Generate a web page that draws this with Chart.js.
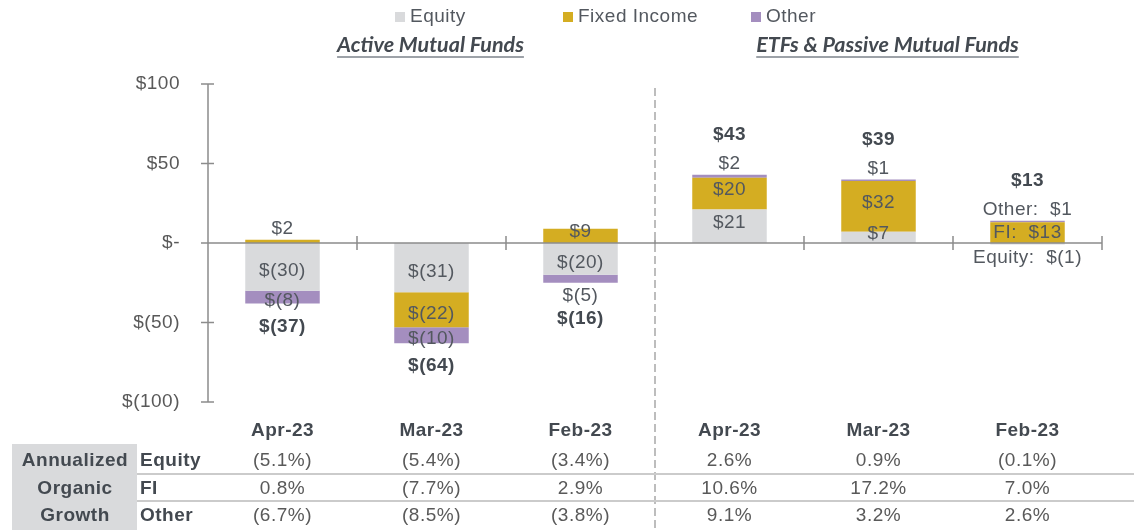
<!DOCTYPE html>
<html>
<head>
<meta charset="utf-8">
<script src="https://cdn.jsdelivr.net/npm/chart.js@4"></script>
<style>
  html, body { margin: 0; padding: 0; background: #fff; }
  #wrap { position: relative; width: 1134px; height: 530px; }
</style>
</head>
<body>
<div id="wrap"><canvas id="flows"></canvas></div>
<script>
// ─── Data ─────────────────────────────────────────────────────────────────────

const categories = ["Apr-23", "Mar-23", "Feb-23", "Apr-23", "Mar-23", "Feb-23"];
const seriesNames = ["Equity", "Fixed Income", "Other"];
const rowNames = ["Equity", "FI", "Other"];
const sectionTitles = ["Active Mutual Funds", "ETFs & Passive Mutual Funds"];
const blockTitle = ["Annualized", "Organic", "Growth"];

const equityFlows = [-30, -31, -20, 21, 7, -1];
const fixedIncomeFlows = [2, -22, 9, 20, 32, 13];
const otherFlows = [-8, -10, -5, 2, 1, 1];
const totalFlows = [-37, -64, -16, 43, 39, 13];

const yTicks = [-100, -50, 0, 50, 100];

const growthEquity = [-5.1, -5.4, -3.4, 2.6, 0.9, -0.1];
const growthFI = [0.8, -7.7, 2.9, 10.6, 17.2, 7.0];
const growthOther = [-6.7, -8.5, -3.8, 9.1, 3.2, 2.6];

// ─── Styles ───────────────────────────────────────────────────────────────────

const COLORS = {
  equity: "#d9dadc",
  fi: "#d4ad22",
  other: "#a48ebf",
  axis: "#8c8c8c",
  tick: "#595959",
  label: "#53585f",
  dark: "#434950",
  dash: "#bdbdbd",
  rule: "#cbcbcb",
  block: "#d9dadc",
};
const FONT = "'Liberation Sans', Arial, sans-serif";
const SIZE = 19;
const SPACING = "0.5px";

const money = (v) => (v === 0 ? "$-" : v < 0 ? "$(" + -v + ")" : "$" + v);
const pct = (v) => (v < 0 ? "(" + (-v).toFixed(1) + "%)" : v.toFixed(1) + "%");

// ─── Plugins ──────────────────────────────────────────────────────────────────

// slightly wider tracking, as in the source slide
const trackingPlugin = {
  id: "tracking",
  beforeDraw(chart) {
    chart.ctx.letterSpacing = SPACING;
  },
};

const axesPlugin = {
  id: "axes",
  afterDatasetsDraw(chart) {
    const { ctx, chartArea, scales: { x, y } } = chart;
    const half = (x.getPixelForValue(1) - x.getPixelForValue(0)) / 2;
    const y0 = y.getPixelForValue(0);
    ctx.save();
    ctx.strokeStyle = COLORS.axis;
    ctx.lineWidth = 1.5;
    ctx.beginPath();
    ctx.moveTo(chartArea.left, y.getPixelForValue(yTicks[yTicks.length - 1]));
    ctx.lineTo(chartArea.left, y.getPixelForValue(yTicks[0]));
    yTicks.forEach((t) => {
      const py = y.getPixelForValue(t);
      ctx.moveTo(chartArea.left - 7, py);
      ctx.lineTo(chartArea.left + 6, py);
    });
    ctx.moveTo(chartArea.left, y0);
    ctx.lineTo(chartArea.right, y0);
    for (let i = 0; i <= categories.length; i++) {
      const px = x.getPixelForValue(0) - half + i * half * 2;
      ctx.moveTo(px, y0 - 7);
      ctx.lineTo(px, y0 + 7);
    }
    ctx.stroke();

    // dashed separator between the two fund groups
    const sep = (x.getPixelForValue(2) + x.getPixelForValue(3)) / 2;
    ctx.strokeStyle = COLORS.dash;
    ctx.lineWidth = 2;
    ctx.setLineDash([8, 4]);
    ctx.beginPath();
    ctx.moveTo(sep, 88);
    ctx.lineTo(sep, chart.height);
    ctx.stroke();
    ctx.restore();
  },
};

const labelPlugin = {
  id: "segmentLabels",
  afterDatasetsDraw(chart) {
    const { ctx } = chart;
    ctx.save();
    ctx.textAlign = "center";
    ctx.textBaseline = "middle";
    categories.forEach((cat, i) => {
      const segs = chart.data.datasets.map((ds, s) => {
        const bar = chart.getDatasetMeta(s).data[i];
        return { v: ds.data[i], s, x: bar.x, top: Math.min(bar.y, bar.base), bot: Math.max(bar.y, bar.base) };
      });
      const cx = segs[0].x;
      const topPx = Math.min(...segs.map((g) => g.top));
      const botPx = Math.max(...segs.map((g) => g.bot));
      const tiny = segs.filter((g) => g.bot - g.top < 10);
      const named = tiny.length > 1;
      let minY = topPx, maxY = botPx;
      ctx.font = SIZE + "px " + FONT;
      ctx.fillStyle = COLORS.label;
      segs.forEach((g) => {
        // labels sit a little away from the zero line inside their segment
        let ly = (g.top + g.bot) / 2 + (named ? 0 : g.v < 0 ? 4 : -4);
        if (g.bot - g.top < 10) ly = g.v >= 0 ? topPx - 11 : botPx + 13;
        minY = Math.min(minY, ly);
        maxY = Math.max(maxY, ly);
        const text = (named ? rowNames[g.s] + ":  " : "") + money(g.v);
        ctx.fillText(text, cx, ly);
      });
      ctx.font = "bold " + SIZE + "px " + FONT;
      ctx.fillStyle = COLORS.dark;
      const t = totalFlows[i];
      const ty = t < 0 ? Math.max(botPx, maxY) + 23 : Math.min(topPx, minY) - 29;
      ctx.fillText(money(t), cx, ty);
    });
    ctx.restore();
  },
};

const framePlugin = {
  id: "frame",
  afterDraw(chart) {
    const { ctx, scales: { x } } = chart;
    ctx.save();
    ctx.textBaseline = "middle";

    // legend
    const legendX = [395, 563, 751];
    const swatches = [COLORS.equity, COLORS.fi, COLORS.other];
    ctx.font = SIZE + "px " + FONT;
    seriesNames.forEach((name, s) => {
      ctx.fillStyle = swatches[s];
      ctx.fillRect(legendX[s], 12, 10, 10);
      ctx.fillStyle = COLORS.label;
      ctx.textAlign = "left";
      ctx.fillText(name, legendX[s] + 15, 17);
    });

    // section titles
    ctx.letterSpacing = "0px";
    ctx.font = "italic bold 21.5px Lato, sans-serif";
    ctx.textAlign = "center";
    const groups = [[0, 1, 2], [3, 4, 5]];
    groups.forEach((g, k) => {
      const cx = g.reduce((a, i) => a + x.getPixelForValue(i), 0) / g.length + (k ? 9 : -1);
      ctx.fillStyle = COLORS.dark;
      ctx.fillText(sectionTitles[k], cx, 45);
      const w = ctx.measureText(sectionTitles[k]).width;
      ctx.strokeStyle = "#7d838b";
      ctx.lineWidth = 1.5;
      ctx.beginPath();
      ctx.moveTo(cx - w / 2, 57);
      ctx.lineTo(cx + w / 2, 57);
      ctx.stroke();
    });
    ctx.letterSpacing = SPACING;

    // growth table
    const rowY = [461, 489, 516];
    ctx.fillStyle = COLORS.block;
    ctx.fillRect(12, 444, 125, chart.height - 444);
    ctx.strokeStyle = COLORS.rule;
    ctx.lineWidth = 2;
    ctx.beginPath();
    [474, 501].forEach((ly) => {
      ctx.moveTo(137, ly);
      ctx.lineTo(chart.width, ly);
    });
    ctx.stroke();

    ctx.font = "bold " + SIZE + "px " + FONT;
    ctx.fillStyle = COLORS.dark;
    blockTitle.forEach((t, r) => {
      ctx.textAlign = "center";
      ctx.fillText(t, 75, rowY[r]);
      ctx.textAlign = "left";
      ctx.fillText(rowNames[r], 140, rowY[r]);
    });

    ctx.font = SIZE + "px " + FONT;
    ctx.fillStyle = COLORS.tick;
    ctx.textAlign = "center";
    [growthEquity, growthFI, growthOther].forEach((row, r) => {
      row.forEach((v, i) => ctx.fillText(pct(v), x.getPixelForValue(i), rowY[r]));
    });
    ctx.restore();
  },
};

// ─── Chart ────────────────────────────────────────────────────────────────────

new Chart(document.getElementById("flows").getContext("2d"), {
  type: "bar",
  data: {
    labels: categories,
    datasets: [
      { label: seriesNames[0], data: equityFlows, backgroundColor: COLORS.equity },
      { label: seriesNames[1], data: fixedIncomeFlows, backgroundColor: COLORS.fi },
      { label: seriesNames[2], data: otherFlows, backgroundColor: COLORS.other },
    ],
  },
  options: {
    responsive: true,
    maintainAspectRatio: false,
    animation: false,
    datasets: { bar: { categoryPercentage: 1, barPercentage: 0.5, borderWidth: 0 } },
    layout: { padding: { left: 68, right: 32, top: 84, bottom: 88 } },
    plugins: { legend: { display: false }, tooltip: { enabled: false } },
    scales: {
      x: {
        stacked: true,
        grid: { display: false },
        border: { display: false },
        ticks: { color: COLORS.dark, font: { family: FONT, size: SIZE, weight: "bold" }, padding: 9 },
        afterFit: (s) => { s.height = 40; },
      },
      y: {
        stacked: true,
        min: -100,
        max: 100,
        grid: { display: false },
        border: { display: false },
        afterBuildTicks: (s) => { s.ticks = yTicks.map((v) => ({ value: v })); },
        ticks: { color: COLORS.tick, font: { family: FONT, size: SIZE }, padding: 20, callback: (v) => money(v) },
        afterFit: (s) => { s.width = 140; },
      },
    },
  },
  plugins: [trackingPlugin, axesPlugin, labelPlugin, framePlugin],
});
</script>
</body>
</html>
